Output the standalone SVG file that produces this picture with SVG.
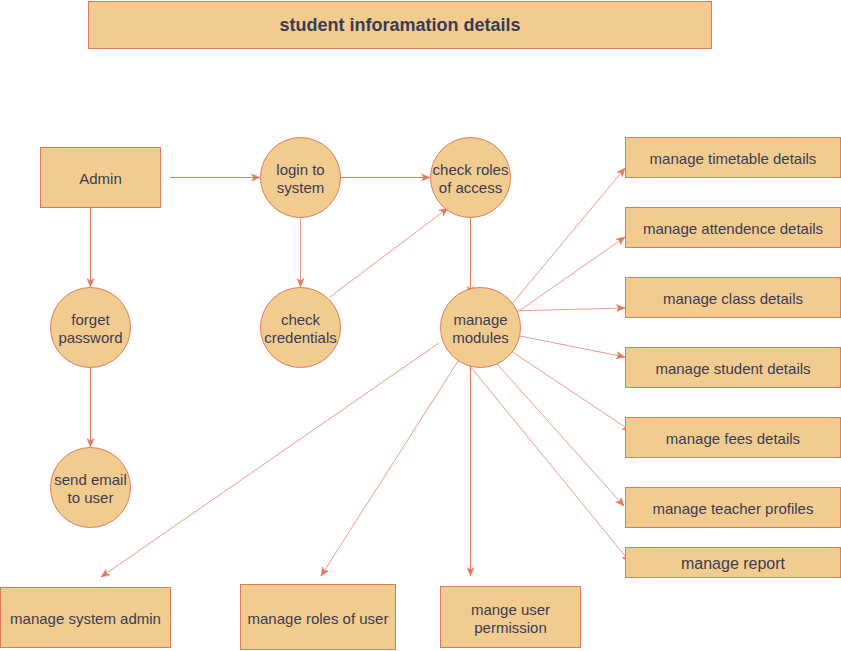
<svg xmlns="http://www.w3.org/2000/svg" width="841" height="651" viewBox="0 0 841 651">
<defs>
<marker id="arr" viewBox="0 0 10 10" refX="9.5" refY="5" markerWidth="9" markerHeight="9" orient="auto" markerUnits="userSpaceOnUse">
<path d="M0,1 L9.5,5 L0,9 L2.5,5 Z" fill="#E07A5F" stroke="#E07A5F" stroke-width="0.5"/>
</marker>
<style>
.n{fill:#F2CC8F;stroke:#E07A5F;stroke-width:1}
.t{font-family:"Liberation Sans",Arial,Helvetica,sans-serif;font-size:15px;fill:#393C56;text-anchor:middle;dominant-baseline:central}
.title{font-family:"Liberation Sans",Arial,Helvetica,sans-serif;font-size:18px;font-weight:bold;fill:#393C56;text-anchor:middle;dominant-baseline:central}
.c{fill:none;stroke:#E07A5F;stroke-width:1;marker-end:url(#arr)}
.l{stroke:#EE9C88}
</style>
</defs>
<rect width="841" height="651" fill="#FFFFFF"/>
<g id="connectors">
<path class="c" d="M170,177.5 L260,177.5"/>
<path class="c" d="M90.5,207.5 L90.5,287"/>
<path class="c" d="M90.5,367.5 L90.5,447"/>
<path class="c" d="M340,177.5 L430,177.5"/>
<path class="c l" d="M300.5,217.5 L300.5,287"/>
<path class="c l" d="M330,297 L448,208"/>
<path class="c" d="M470.5,217.5 L470.5,295"/>
<path class="c l" d="M511,305 L625,168"/>
<path class="c l" d="M519,311 L625,237"/>
<path class="c l" d="M510,311 L625,308"/>
<path class="c l" d="M520,336 L625,357"/>
<path class="c l" d="M511,351 L631,431"/>
<path class="c l" d="M497,364 L624,506"/>
<path class="c l" d="M465,360 L630,562"/>
<path class="c l" d="M439,343 L101,577"/>
<path class="c l" d="M460,358 L321,576"/>
<path class="c" d="M470.5,366 L470.5,576"/>
</g>
<g id="title"><rect class="n" x="88.5" y="1.5" width="623" height="47"/><text class="title" x="400" y="25">student inforamation details</text></g>
<g id="admin"><rect class="n" x="40.5" y="147.5" width="120" height="60"/><text class="t" x="100.5" y="178">Admin</text></g>
<g id="login"><circle class="n" cx="300.5" cy="177.5" r="40"/><text class="t" x="300.5" y="169.5">login to</text><text class="t" x="300.5" y="187.5">system</text></g>
<g id="checkroles"><circle class="n" cx="470.5" cy="177.5" r="40"/><text class="t" x="470.5" y="169.5">check roles</text><text class="t" x="470.5" y="187.5">of access</text></g>
<g id="forget"><circle class="n" cx="90.5" cy="327.5" r="40"/><text class="t" x="90.5" y="319.5">forget</text><text class="t" x="90.5" y="337.5">password</text></g>
<g id="checkcred"><circle class="n" cx="300.5" cy="327.5" r="40"/><text class="t" x="300.5" y="319.5">check</text><text class="t" x="300.5" y="337.5">credentials</text></g>
<g id="modules"><circle class="n" cx="480.5" cy="327.5" r="40"/><text class="t" x="480.5" y="319.5">manage</text><text class="t" x="480.5" y="337.5">modules</text></g>
<g id="sendemail"><circle class="n" cx="90.5" cy="487.5" r="40"/><text class="t" x="90.5" y="479.5">send email</text><text class="t" x="90.5" y="497.5">to user</text></g>
<g id="timetable"><rect class="n" x="625.5" y="137.5" width="215" height="40"/><text class="t" x="733" y="158">manage timetable details</text></g>
<g id="attendence"><rect class="n" x="625.5" y="207.5" width="215" height="40"/><text class="t" x="733" y="228">manage attendence details</text></g>
<g id="class"><rect class="n" x="625.5" y="277.5" width="215" height="40"/><text class="t" x="733" y="298">manage class details</text></g>
<g id="student"><rect class="n" x="625.5" y="347.5" width="215" height="40"/><text class="t" x="733" y="368">manage student details</text></g>
<g id="fees"><rect class="n" x="625.5" y="417.5" width="215" height="40"/><text class="t" x="733" y="438">manage fees details</text></g>
<g id="teacher"><rect class="n" x="625.5" y="487.5" width="215" height="40"/><text class="t" x="733" y="508">manage teacher profiles</text></g>
<g id="report"><rect class="n" x="625.5" y="547.5" width="215" height="30"/><text class="t" x="733" y="563" style="font-size:16px">manage report</text></g>
<g id="sysadmin"><rect class="n" x="0.5" y="587.5" width="170" height="60"/><text class="t" x="85.5" y="618">manage system admin</text></g>
<g id="rolesuser"><rect class="n" x="240.5" y="584.5" width="155" height="65"/><text class="t" x="318" y="618">manage roles of user</text></g>
<g id="permission"><rect class="n" x="440.5" y="586.5" width="140" height="61"/><text class="t" x="510.5" y="609.5">mange user</text><text class="t" x="510.5" y="627.5">permission</text></g>
</svg>
